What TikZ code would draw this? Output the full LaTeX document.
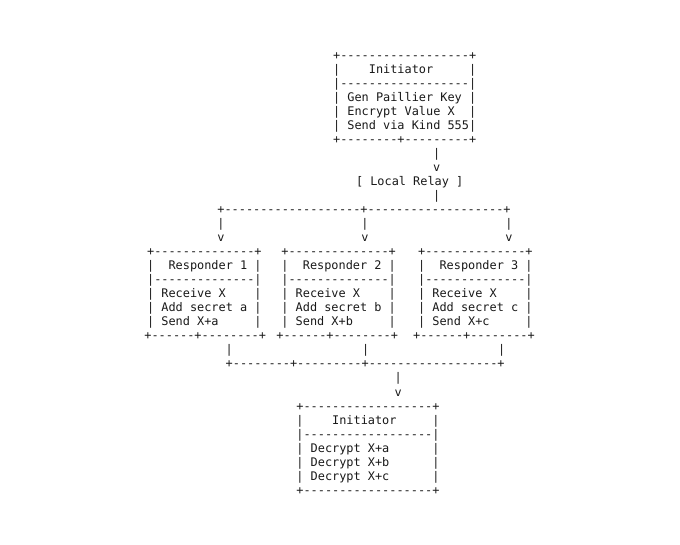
\documentclass[tikz,border=0pt]{standalone}
\usepackage{fontspec}
\setmonofont{DejaVu Sans Mono}
\begin{document}
\begin{tikzpicture}[x=1pt,y=-1pt,
  txt/.style={anchor=base west, inner sep=0pt, outer sep=0pt,
    font=\ttfamily\fontsize{11.88}{14}\selectfont, text=black!90}]
\newcommand\arow[4]{\node[txt] (#1) at ({#2-3.575},{59.3+14.03*(#3-1)}) {#4};}
\useasboundingbox (0,0) rectangle (680,544);
% top initiator box
\arow{ia}{336.7}{1}{+------------------+}
\arow{ib}{336.7}{2}{|~~~~Initiator~~~~~|}
\arow{ic}{336.7}{3}{|------------------|}
\arow{id}{336.7}{4}{|~Gen~Paillier~Key~|}
\arow{ie}{336.7}{5}{|~Encrypt~Value~X~~|}
\arow{if}{336.7}{6}{|~Send~via~Kind~555|}
\arow{ig}{336.7}{7}{+--------+---------+}
% to relay
\arow{a1}{436.7}{8}{|}
\arow{a2}{436.7}{9}{v}
\arow{relay}{359.6}{10}{[~Local~Relay~]}
\arow{a3}{436.7}{11}{|}
\arow{fan}{221}{12}{+-------------------+-------------------+}
\arow{f1a}{221}{13}{|}
\arow{f2a}{365}{13}{|}
\arow{f3a}{509}{13}{|}
\arow{f1b}{221}{14}{v}
\arow{f2b}{365}{14}{v}
\arow{f3b}{509}{14}{v}
% responder 1
\arow{r1a}{150.7}{15}{+--------------+}
\arow{r1b}{150.7}{16}{|~~Responder~1~|}
\arow{r1c}{150.7}{17}{|--------------|}
\arow{r1d}{150.7}{18}{|~Receive~X~~~~|}
\arow{r1e}{150.7}{19}{|~Add~secret~a~|}
\arow{r1f}{150.7}{20}{|~Send~X+a~~~~~|}
\arow{r1g}{148}{21}{+------+--------+}
% responder 2
\arow{r2a}{285}{15}{+--------------+}
\arow{r2b}{285}{16}{|~~Responder~2~|}
\arow{r2c}{285}{17}{|--------------|}
\arow{r2d}{285}{18}{|~Receive~X~~~~|}
\arow{r2e}{285}{19}{|~Add~secret~b~|}
\arow{r2f}{285}{20}{|~Send~X+b~~~~~|}
\arow{r2g}{280}{21}{+------+--------+}
% responder 3
\arow{r3a}{421.7}{15}{+--------------+}
\arow{r3b}{421.7}{16}{|~~Responder~3~|}
\arow{r3c}{421.7}{17}{|--------------|}
\arow{r3d}{421.7}{18}{|~Receive~X~~~~|}
\arow{r3e}{421.7}{19}{|~Add~secret~c~|}
\arow{r3f}{421.7}{20}{|~Send~X+c~~~~~|}
\arow{r3g}{416.7}{21}{+------+--------+}
% fan-in
\arow{g1}{229.3}{22}{|}
\arow{g2}{365.7}{22}{|}
\arow{g3}{501.7}{22}{|}
\arow{join}{229.3}{23}{+--------+---------+------------------+}
\arow{b1}{398.3}{24}{|}
\arow{b2}{398.3}{25}{v}
% bottom initiator box
\arow{ja}{300}{26}{+------------------+}
\arow{jb}{300}{27}{|~~~~Initiator~~~~~|}
\arow{jc}{300}{28}{|------------------|}
\arow{jd}{300}{29}{|~Decrypt~X+a~~~~~~|}
\arow{je}{300}{30}{|~Decrypt~X+b~~~~~~|}
\arow{jf}{300}{31}{|~Decrypt~X+c~~~~~~|}
\arow{jg}{300}{32}{+------------------+}
\end{tikzpicture}
\end{document}
